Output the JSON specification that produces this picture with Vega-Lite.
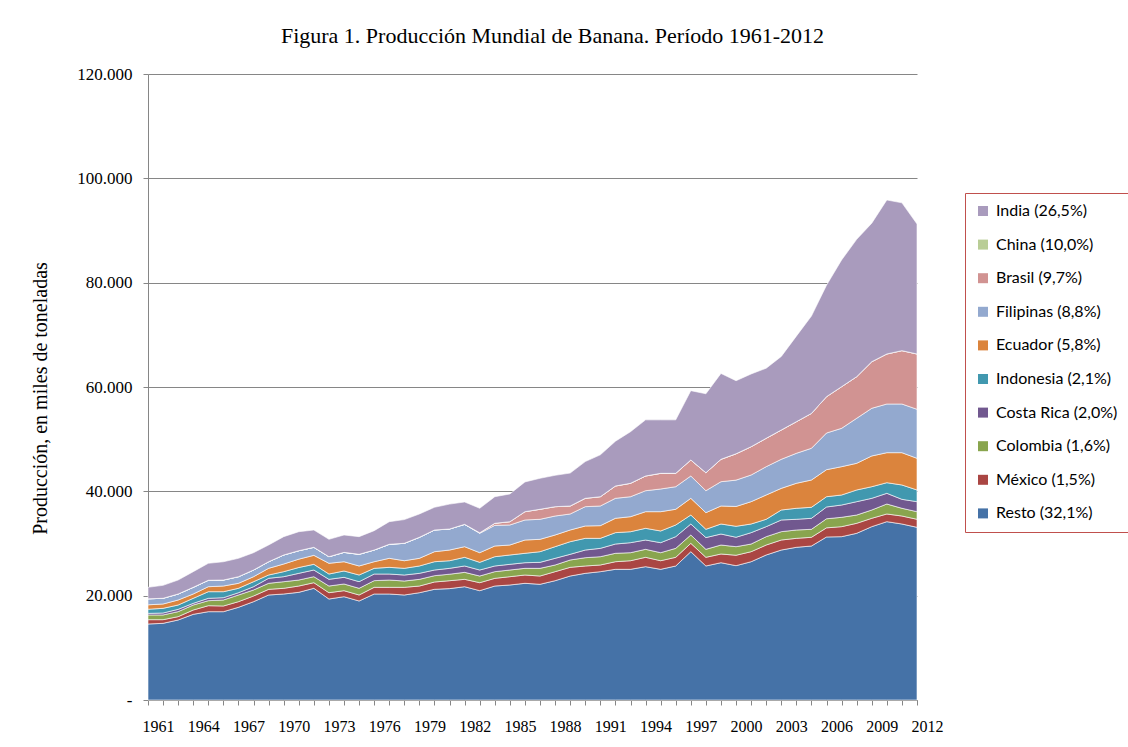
{
  "$schema": "https://vega.github.io/schema/vega-lite/v6.json",
  "width": 769,
  "height": 626,
  "autosize": {"type": "none"},
  "padding": {"left": 148, "top": 74, "right": 211, "bottom": 47},
  "background": "white",
  "title": {
    "text": "Figura 1. Producción Mundial de Banana. Período 1961-2012",
    "font": "Liberation Serif",
    "fontSize": 22,
    "fontWeight": "normal",
    "color": "#000000",
    "anchor": "middle",
    "dx": 20,
    "dy": 24,
    "offset": 24,
    "baseline": "alphabetic"
  },
  "data": {
    "values": [
      {"anio": 1961, "j_Resto": 14570, "i_Mexico": 830, "h_Colombia": 900, "g_CostaRica": 300, "f_Indonesia": 800, "e_Ecuador": 850, "d_Filipinas": 1150, "c_Brasil": 0, "b_China": 0, "a_India": 2200},
      {"anio": 1962, "j_Resto": 14700, "i_Mexico": 700, "h_Colombia": 900, "g_CostaRica": 380, "f_Indonesia": 890, "e_Ecuador": 830, "d_Filipinas": 1100, "c_Brasil": 0, "b_China": 0, "a_India": 2480},
      {"anio": 1963, "j_Resto": 15340, "i_Mexico": 640, "h_Colombia": 960, "g_CostaRica": 440, "f_Indonesia": 830, "e_Ecuador": 960, "d_Filipinas": 1150, "c_Brasil": 0, "b_China": 0, "a_India": 2680},
      {"anio": 1964, "j_Resto": 16420, "i_Mexico": 830, "h_Colombia": 960, "g_CostaRica": 320, "f_Indonesia": 960, "e_Ecuador": 830, "d_Filipinas": 1280, "c_Brasil": 0, "b_China": 0, "a_India": 3000},
      {"anio": 1965, "j_Resto": 16930, "i_Mexico": 1150, "h_Colombia": 960, "g_CostaRica": 450, "f_Indonesia": 1270, "e_Ecuador": 960, "d_Filipinas": 1230, "c_Brasil": 0, "b_China": 0, "a_India": 3250},
      {"anio": 1966, "j_Resto": 16930, "i_Mexico": 1090, "h_Colombia": 1150, "g_CostaRica": 440, "f_Indonesia": 1150, "e_Ecuador": 1090, "d_Filipinas": 1150, "c_Brasil": 0, "b_China": 0, "a_India": 3500},
      {"anio": 1967, "j_Resto": 17770, "i_Mexico": 1080, "h_Colombia": 1280, "g_CostaRica": 440, "f_Indonesia": 840, "e_Ecuador": 960, "d_Filipinas": 1270, "c_Brasil": 0, "b_China": 0, "a_India": 3520},
      {"anio": 1968, "j_Resto": 18850, "i_Mexico": 1090, "h_Colombia": 1150, "g_CostaRica": 630, "f_Indonesia": 960, "e_Ecuador": 960, "d_Filipinas": 1280, "c_Brasil": 0, "b_China": 0, "a_India": 3320},
      {"anio": 1969, "j_Resto": 20130, "i_Mexico": 1080, "h_Colombia": 1160, "g_CostaRica": 960, "f_Indonesia": 630, "e_Ecuador": 1280, "d_Filipinas": 1270, "c_Brasil": 0, "b_China": 0, "a_India": 3200},
      {"anio": 1970, "j_Resto": 20320, "i_Mexico": 1090, "h_Colombia": 1270, "g_CostaRica": 960, "f_Indonesia": 960, "e_Ecuador": 1470, "d_Filipinas": 1730, "c_Brasil": 0, "b_China": 0, "a_India": 3510},
      {"anio": 1971, "j_Resto": 20640, "i_Mexico": 1210, "h_Colombia": 1150, "g_CostaRica": 1280, "f_Indonesia": 1120, "e_Ecuador": 1600, "d_Filipinas": 1620, "c_Brasil": 0, "b_China": 0, "a_India": 3640},
      {"anio": 1972, "j_Resto": 21410, "i_Mexico": 1080, "h_Colombia": 1150, "g_CostaRica": 1280, "f_Indonesia": 1090, "e_Ecuador": 1720, "d_Filipinas": 1540, "c_Brasil": 0, "b_China": 0, "a_India": 3320},
      {"anio": 1973, "j_Resto": 19360, "i_Mexico": 1210, "h_Colombia": 1280, "g_CostaRica": 1280, "f_Indonesia": 1020, "e_Ecuador": 2050, "d_Filipinas": 1270, "c_Brasil": 0, "b_China": 0, "a_India": 3330},
      {"anio": 1974, "j_Resto": 19810, "i_Mexico": 1150, "h_Colombia": 1280, "g_CostaRica": 1280, "f_Indonesia": 1210, "e_Ecuador": 1780, "d_Filipinas": 1790, "c_Brasil": 0, "b_China": 0, "a_India": 3330},
      {"anio": 1975, "j_Resto": 18980, "i_Mexico": 1150, "h_Colombia": 1280, "g_CostaRica": 1270, "f_Indonesia": 1280, "e_Ecuador": 1730, "d_Filipinas": 2240, "c_Brasil": 0, "b_China": 0, "a_India": 3380},
      {"anio": 1976, "j_Resto": 20320, "i_Mexico": 1280, "h_Colombia": 1280, "g_CostaRica": 1270, "f_Indonesia": 1090, "e_Ecuador": 1270, "d_Filipinas": 2240, "c_Brasil": 0, "b_China": 0, "a_India": 3710},
      {"anio": 1977, "j_Resto": 20320, "i_Mexico": 1280, "h_Colombia": 1400, "g_CostaRica": 1150, "f_Indonesia": 1280, "e_Ecuador": 1730, "d_Filipinas": 2690, "c_Brasil": 0, "b_China": 0, "a_India": 4330},
      {"anio": 1978, "j_Resto": 20130, "i_Mexico": 1470, "h_Colombia": 1210, "g_CostaRica": 1150, "f_Indonesia": 1280, "e_Ecuador": 1460, "d_Filipinas": 3340, "c_Brasil": 0, "b_China": 0, "a_India": 4540},
      {"anio": 1979, "j_Resto": 20570, "i_Mexico": 1280, "h_Colombia": 1280, "g_CostaRica": 1150, "f_Indonesia": 1410, "e_Ecuador": 1470, "d_Filipinas": 4030, "c_Brasil": 0, "b_China": 0, "a_India": 4470},
      {"anio": 1980, "j_Resto": 21220, "i_Mexico": 1400, "h_Colombia": 1210, "g_CostaRica": 1090, "f_Indonesia": 1590, "e_Ecuador": 1920, "d_Filipinas": 4160, "c_Brasil": 0, "b_China": 0, "a_India": 4350},
      {"anio": 1981, "j_Resto": 21350, "i_Mexico": 1520, "h_Colombia": 1250, "g_CostaRica": 1120, "f_Indonesia": 1460, "e_Ecuador": 2050, "d_Filipinas": 4030, "c_Brasil": 0, "b_China": 0, "a_India": 4770},
      {"anio": 1982, "j_Resto": 21720, "i_Mexico": 1410, "h_Colombia": 1340, "g_CostaRica": 1220, "f_Indonesia": 1660, "e_Ecuador": 2040, "d_Filipinas": 4280, "c_Brasil": 0, "b_China": 0, "a_India": 4290},
      {"anio": 1983, "j_Resto": 20960, "i_Mexico": 1530, "h_Colombia": 1280, "g_CostaRica": 1150, "f_Indonesia": 1470, "e_Ecuador": 1850, "d_Filipinas": 3710, "c_Brasil": 100, "b_China": 0, "a_India": 4700},
      {"anio": 1984, "j_Resto": 21850, "i_Mexico": 1470, "h_Colombia": 1280, "g_CostaRica": 1090, "f_Indonesia": 1780, "e_Ecuador": 2050, "d_Filipinas": 3960, "c_Brasil": 390, "b_China": 0, "a_India": 5100},
      {"anio": 1985, "j_Resto": 22050, "i_Mexico": 1590, "h_Colombia": 1280, "g_CostaRica": 1090, "f_Indonesia": 1790, "e_Ecuador": 1910, "d_Filipinas": 3840, "c_Brasil": 630, "b_China": 0, "a_India": 5310},
      {"anio": 1986, "j_Resto": 22370, "i_Mexico": 1590, "h_Colombia": 1280, "g_CostaRica": 1080, "f_Indonesia": 1800, "e_Ecuador": 2550, "d_Filipinas": 3840, "c_Brasil": 1590, "b_China": 0, "a_India": 5700},
      {"anio": 1987, "j_Resto": 22180, "i_Mexico": 1590, "h_Colombia": 1470, "g_CostaRica": 1150, "f_Indonesia": 2040, "e_Ecuador": 2370, "d_Filipinas": 3840, "c_Brasil": 1920, "b_China": 0, "a_India": 5940},
      {"anio": 1988, "j_Resto": 22870, "i_Mexico": 1730, "h_Colombia": 1280, "g_CostaRica": 1280, "f_Indonesia": 2230, "e_Ecuador": 2240, "d_Filipinas": 3640, "c_Brasil": 1790, "b_China": 0, "a_India": 6010},
      {"anio": 1989, "j_Resto": 23770, "i_Mexico": 1660, "h_Colombia": 1410, "g_CostaRica": 1090, "f_Indonesia": 2420, "e_Ecuador": 2240, "d_Filipinas": 3070, "c_Brasil": 1530, "b_China": 0, "a_India": 6310},
      {"anio": 1990, "j_Resto": 24280, "i_Mexico": 1410, "h_Colombia": 1590, "g_CostaRica": 1470, "f_Indonesia": 2240, "e_Ecuador": 2370, "d_Filipinas": 3700, "c_Brasil": 1600, "b_China": 0, "a_India": 7040},
      {"anio": 1991, "j_Resto": 24600, "i_Mexico": 1280, "h_Colombia": 1590, "g_CostaRica": 1600, "f_Indonesia": 1920, "e_Ecuador": 2430, "d_Filipinas": 3770, "c_Brasil": 1780, "b_China": 0, "a_India": 8030},
      {"anio": 1992, "j_Resto": 25050, "i_Mexico": 1460, "h_Colombia": 1610, "g_CostaRica": 1780, "f_Indonesia": 2180, "e_Ecuador": 2750, "d_Filipinas": 3830, "c_Brasil": 2360, "b_China": 0, "a_India": 8580},
      {"anio": 1993, "j_Resto": 25050, "i_Mexico": 1650, "h_Colombia": 1540, "g_CostaRica": 1920, "f_Indonesia": 2100, "e_Ecuador": 2880, "d_Filipinas": 3830, "c_Brasil": 2570, "b_China": 0, "a_India": 9890},
      {"anio": 1994, "j_Resto": 25560, "i_Mexico": 1790, "h_Colombia": 1530, "g_CostaRica": 1790, "f_Indonesia": 2240, "e_Ecuador": 3190, "d_Filipinas": 4020, "c_Brasil": 2820, "b_China": 0, "a_India": 10760},
      {"anio": 1995, "j_Resto": 25050, "i_Mexico": 1650, "h_Colombia": 1540, "g_CostaRica": 1920, "f_Indonesia": 2240, "e_Ecuador": 3700, "d_Filipinas": 4350, "c_Brasil": 3000, "b_China": 0, "a_India": 10250},
      {"anio": 1996, "j_Resto": 25690, "i_Mexico": 1660, "h_Colombia": 1720, "g_CostaRica": 2240, "f_Indonesia": 2240, "e_Ecuador": 3010, "d_Filipinas": 4330, "c_Brasil": 2560, "b_China": 0, "a_India": 10250},
      {"anio": 1997, "j_Resto": 28430, "i_Mexico": 1600, "h_Colombia": 1600, "g_CostaRica": 2110, "f_Indonesia": 1720, "e_Ecuador": 3200, "d_Filipinas": 4280, "c_Brasil": 3070, "b_China": 0, "a_India": 13290},
      {"anio": 1998, "j_Resto": 25690, "i_Mexico": 1660, "h_Colombia": 1530, "g_CostaRica": 2250, "f_Indonesia": 1590, "e_Ecuador": 3190, "d_Filipinas": 4210, "c_Brasil": 3450, "b_China": 0, "a_India": 15130},
      {"anio": 1999, "j_Resto": 26320, "i_Mexico": 1670, "h_Colombia": 1720, "g_CostaRica": 2110, "f_Indonesia": 1920, "e_Ecuador": 3450, "d_Filipinas": 4660, "c_Brasil": 4290, "b_China": 0, "a_India": 16460},
      {"anio": 2000, "j_Resto": 25750, "i_Mexico": 2000, "h_Colombia": 1640, "g_CostaRica": 1810, "f_Indonesia": 2100, "e_Ecuador": 3800, "d_Filipinas": 5050, "c_Brasil": 5050, "b_China": 0, "a_India": 14000},
      {"anio": 2001, "j_Resto": 26510, "i_Mexico": 1920, "h_Colombia": 1470, "g_CostaRica": 2180, "f_Indonesia": 1660, "e_Ecuador": 4280, "d_Filipinas": 5110, "c_Brasil": 5430, "b_China": 0, "a_India": 13940},
      {"anio": 2002, "j_Resto": 27800, "i_Mexico": 1910, "h_Colombia": 1600, "g_CostaRica": 1920, "f_Indonesia": 1410, "e_Ecuador": 4660, "d_Filipinas": 5430, "c_Brasil": 5440, "b_China": 0, "a_India": 13430},
      {"anio": 2003, "j_Resto": 28750, "i_Mexico": 1920, "h_Colombia": 1600, "g_CostaRica": 2240, "f_Indonesia": 1910, "e_Ecuador": 4150, "d_Filipinas": 5570, "c_Brasil": 5620, "b_China": 0, "a_India": 14090},
      {"anio": 2004, "j_Resto": 29270, "i_Mexico": 1720, "h_Colombia": 1600, "g_CostaRica": 2050, "f_Indonesia": 2110, "e_Ecuador": 4790, "d_Filipinas": 5750, "c_Brasil": 6060, "b_China": 0, "a_India": 16400},
      {"anio": 2005, "j_Resto": 29520, "i_Mexico": 1670, "h_Colombia": 1530, "g_CostaRica": 2110, "f_Indonesia": 2110, "e_Ecuador": 5230, "d_Filipinas": 6080, "c_Brasil": 6690, "b_China": 0, "a_India": 18660},
      {"anio": 2006, "j_Resto": 31250, "i_Mexico": 1750, "h_Colombia": 1740, "g_CostaRica": 2260, "f_Indonesia": 1970, "e_Ecuador": 5180, "d_Filipinas": 7030, "c_Brasil": 6970, "b_China": 0, "a_India": 21350},
      {"anio": 2007, "j_Resto": 31310, "i_Mexico": 1920, "h_Colombia": 1790, "g_CostaRica": 2360, "f_Indonesia": 1920, "e_Ecuador": 5430, "d_Filipinas": 7350, "c_Brasil": 7980, "b_China": 0, "a_India": 24290},
      {"anio": 2008, "j_Resto": 31950, "i_Mexico": 1920, "h_Colombia": 1590, "g_CostaRica": 2560, "f_Indonesia": 2240, "e_Ecuador": 5110, "d_Filipinas": 8630, "c_Brasil": 7980, "b_China": 0, "a_India": 26320},
      {"anio": 2009, "j_Resto": 33230, "i_Mexico": 1600, "h_Colombia": 1590, "g_CostaRica": 2240, "f_Indonesia": 2230, "e_Ecuador": 5890, "d_Filipinas": 9140, "c_Brasil": 8930, "b_China": 0, "a_India": 26550},
      {"anio": 2010, "j_Resto": 34190, "i_Mexico": 1470, "h_Colombia": 1910, "g_CostaRica": 2050, "f_Indonesia": 2040, "e_Ecuador": 5750, "d_Filipinas": 9330, "c_Brasil": 9590, "b_China": 0, "a_India": 29520},
      {"anio": 2011, "j_Resto": 33740, "i_Mexico": 1530, "h_Colombia": 1480, "g_CostaRica": 1720, "f_Indonesia": 2750, "e_Ecuador": 6190, "d_Filipinas": 9330, "c_Brasil": 10230, "b_China": 0, "a_India": 28330},
      {"anio": 2012, "j_Resto": 33100, "i_Mexico": 1540, "h_Colombia": 1460, "g_CostaRica": 1920, "f_Indonesia": 2240, "e_Ecuador": 6070, "d_Filipinas": 9400, "c_Brasil": 10600, "b_China": 0, "a_India": 24920}
    ]
  },
  "transform": [
    {"fold": ["j_Resto", "i_Mexico", "h_Colombia", "g_CostaRica", "f_Indonesia", "e_Ecuador", "d_Filipinas", "c_Brasil", "b_China", "a_India"], "as": ["serie", "valor"]}
  ],
  "mark": {"type": "area", "interpolate": "linear", "stroke": "#ffffff", "strokeWidth": 0.7, "strokeOpacity": 0.85, "opacity": 1},
  "encoding": {
    "x": {
      "field": "anio",
      "type": "quantitative",
      "scale": {"domain": [1961, 2012], "nice": false, "zero": false},
      "axis": {
        "title": null,
        "values": [1961,1962,1963,1964,1965,1966,1967,1968,1969,1970,1971,1972,1973,1974,1975,1976,1977,1978,1979,1980,1981,1982,1983,1984,1985,1986,1987,1988,1989,1990,1991,1992,1993,1994,1995,1996,1997,1998,1999,2000,2001,2002,2003,2004,2005,2006,2007,2008,2009,2010,2011,2012],
        "format": "d",
        "labelExpr": "(datum.value - 1961) % 3 == 0 ? datum.label : ''",
        "grid": false,
        "domainColor": "#868686",
        "domainWidth": 1,
        "tickColor": "#868686",
        "tickSize": 5,
        "tickWidth": 1,
        "labelFont": "Liberation Serif",
        "labelFontSize": 16,
        "labelColor": "#000000",
        "labelPadding": 13,
        "labelOffset": 10,
        "labelFlush": false,
        "labelOverlap": false,
        "labelBound": false,
        "labelAngle": 0
      }
    },
    "y": {
      "field": "valor",
      "type": "quantitative",
      "stack": "zero",
      "scale": {"domain": [0, 120000], "nice": false},
      "axis": {
        "title": "Producción, en miles de toneladas",
        "titleFont": "Liberation Serif",
        "titleFontSize": 20,
        "titleFontWeight": "normal",
        "titleColor": "#000000",
        "titleAngle": 270,
        "titleAlign": "center",
        "titleBaseline": "middle",
        "titleX": -108,
        "titleY": 324,
        "values": [0, 20000, 40000, 60000, 80000, 100000, 120000],
        "labelExpr": "datum.value == 0 ? '-' : replace(format(datum.value, ',.0f'), ',', '.')",
        "grid": true,
        "gridColor": "#868686",
        "gridWidth": 1,
        "domainColor": "#868686",
        "domainWidth": 1,
        "tickColor": "#868686",
        "tickSize": 5,
        "labelFont": "Liberation Serif",
        "labelFontSize": 17,
        "labelColor": "#000000",
        "labelPadding": 11,
        "labelOverlap": false,
        "encode": {"labels": {"update": {"dx": {"signal": "datum.value == 0 ? -12 : 0"}}}}
      }
    },
    "color": {
      "field": "serie",
      "type": "nominal",
      "scale": {
        "domain": ["a_India", "b_China", "c_Brasil", "d_Filipinas", "e_Ecuador", "f_Indonesia", "g_CostaRica", "h_Colombia", "i_Mexico", "j_Resto"],
        "range": ["#a99bbd", "#b9cd96", "#d19392", "#93a9cf", "#db843d", "#4198af", "#71588f", "#89a54e", "#aa4643", "#4572a7"]
      },
      "legend": {
        "title": null,
        "orient": "none",
        "legendX": 817,
        "legendY": 119,
        "symbolType": "square",
        "symbolSize": 100,
        "symbolStrokeWidth": 0,
        "labelFont": "Lato",
        "labelFontSize": 16,
        "labelColor": "#000000",
        "labelOffset": 5,
        "rowPadding": 17.6,
        "padding": 10,
        "strokeColor": "#c0504d",
        "fillColor": "#ffffff",
        "labelLimit": 300,
        "labelExpr": "{'a_India':'India (26,5%)','b_China':'China (10,0%)','c_Brasil':'Brasil (9,7%)','d_Filipinas':'Filipinas (8,8%)','e_Ecuador':'Ecuador (5,8%)','f_Indonesia':'Indonesia (2,1%)','g_CostaRica':'Costa Rica (2,0%)','h_Colombia':'Colombia (1,6%)','i_Mexico':'México (1,5%)','j_Resto':'Resto (32,1%)'}[datum.label]",
        "encode": {"legend": {"update": {"strokeWidth": {"value": 2}}}}
      }
    }
  },
  "config": {
    "view": {"stroke": null}
  }
}
